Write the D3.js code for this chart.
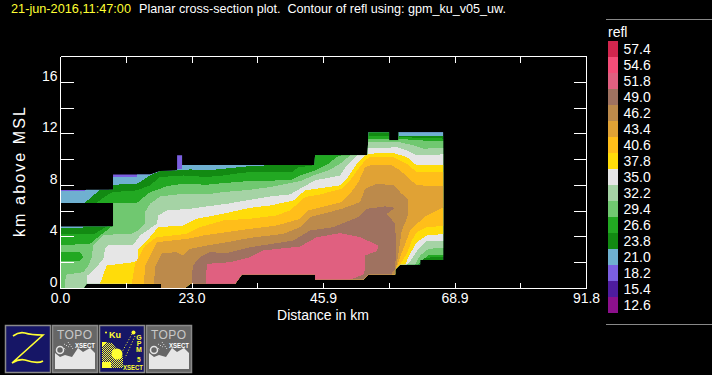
<!DOCTYPE html>
<html>
<head>
<meta charset="utf-8">
<script src="https://cdnjs.cloudflare.com/ajax/libs/d3/7.8.5/d3.min.js"></script>
<style>
  html, body { margin: 0; padding: 0; background: #000; overflow: hidden; }
  text { font-family: "Liberation Sans", sans-serif; fill: #fff; }
  .axis path, .axis line { stroke: #fff; shape-rendering: crispEdges; }
  .axis text { font-size: 14px; }
  .band { shape-rendering: crispEdges; }
</style>
</head>
<body>
<div id="chart"></div>
<script>
// colour bar, top to bottom
var levels = [57.4, 54.6, 51.8, 49.0, 46.2, 43.4, 40.6, 37.8, 35.0, 32.2, 29.4, 26.6, 23.8, 21.0, 18.2, 15.4, 12.6];
var levelColors = ["#d2264e", "#f54d78", "#e06080", "#9f7260", "#bc8a4b", "#e0a235", "#ffbe1a", "#ffdc0a", "#e6e6e6",
  "#a5d3a5", "#70c870", "#22a822", "#128a12", "#6fb0d0", "#7b5fe0", "#4e1c9e", "#8c108c"];

var xTicks = [0, 11.475, 22.95, 34.425, 45.9, 57.375, 68.85, 80.325, 91.8];
var xLabels = ["0.0", "", "23.0", "", "45.9", "", "68.9", "", "91.8"];
var yTicks = [0, 2, 4, 6, 8, 10, 12, 14, 16];
var yLabels = ["0", "", "4", "", "8", "", "12", "", "16"];

// where there is any echo, [km along section, km above MSL]
var echoOutline = [[0,0],[0,4.81],[9.17,4.81],[9.17,6.63],[0,6.63],[0,7.67],[9.17,7.67],[9.17,8.85],[15.63,8.85],[17.37,9.11],[20.35,9.16],
  [20.35,10.33],[21.22,10.33],[21.22,9.58],[44.3,9.58],[44.43,10.33],[53.6,10.33],[53.74,12.12],[57.35,12.12],[57.35,11.5],[58.98,11.5],[58.98,12.12],
  [66.78,12.12],[66.78,2.22],[62.77,2.22],[62.77,1.86],[59.27,1.86],[58.4,1.47],[58.4,1.08],[53.74,1.08],[52.87,0.69],[44.43,0.69],[44.43,1.08],
  [31.64,1.08],[30.47,0.37],[22.62,0.37],[21.63,0],[17.55,0],[17.55,0.37],[4.57,0.37],[3.99,0]];

// one outline per level: the area at or above that level
var area182 = echoOutline;
var area210 = [[-1,7.6],[4.3,7.6],[4.4,7.7],[9.17,7.7],[9.17,8.65],[13.3,8.65],[13.3,9],[20.3,9.3],[21.25,9.3],[21.25,13],[70,13],[70,-1],[-1,-1]];
var area238 = [[-1,4.72],[3.9,4.72],[3.99,6.63],[4.16,6.63],[6.9,7.66],[8.35,7.66],[9.23,8.05],[13.3,8.13],[13.88,8.26],[15.63,8.77],[17.37,9.11],
  [19.7,9.16],[22.62,9.24],[25.52,9.16],[28.43,9.29],[31.35,9.42],[33.09,9.5],[35.99,9.55],[36.1,13],[59,13],[59,11.86],[68,11.86],[68,-1],[-1,-1]];
var area266 = [[-1,4.19],[5.73,4.19],[8.06,4.81],[8,6.63],[6.2,6.63],[8.35,7.3],[9.23,7.48],[13.3,7.61],[15.63,8],[17.37,8.65],[21.45,8.77],[25.52,8.65],
  [28.43,8.77],[31.35,8.96],[33.09,9.03],[40.36,9.03],[41.52,9.42],[43.56,9.5],[44.3,9.6],[44.4,13],[53.6,13],[53.6,11.86],[57.4,11.86],[57.4,11.63],
  [59.27,11.75],[62.18,11.7],[67.13,11.63],[68,11.63],[68,2.48],[63.35,2.38],[62.77,1.86],[62.5,-1],[-1,-1]];
var area294 = [[-1,-1],[-1,2.17],[3.41,2.17],[3.99,2.43],[3.41,2.82],[-1,2.82],[-1,3.41],[2.24,3.41],[5.15,3.46],[6.9,4.11],[8.94,4.81],[9.17,4.9],[9.17,6.63],
  [13.3,6.63],[14.17,6.96],[15.63,7.48],[17.37,7.74],[18.54,7.95],[21.45,8.13],[25.52,8.05],[28.43,8.18],[31.35,8.28],[33.09,8.36],[40.06,8.39],[41.81,8.77],
  [44.14,9.11],[46.76,9.68],[48.2,10.2],[49.67,10.46],[49.8,13],[53.6,13],[53.6,11.63],[58.98,11.63],[62.18,11.5],[67.13,11.42],[68,11.42],[68,2.64],
  [64.22,2.56],[63.06,2.17],[62.47,1.86],[62.2,-1]];
var area322 = [[0.79,-1],[0.79,0.37],[0.96,1.08],[3.98,1.26],[4.86,1.78],[5.44,2.43],[5.73,3.33],[7.47,4.11],[9.17,4.19],[12.14,4.19],[13.59,4.5],[14.76,5.02],
  [14.76,5.93],[15.63,6.57],[17.37,7.14],[21.45,7.35],[25.52,7.3],[28.43,7.48],[33.09,7.66],[36.57,7.87],[38.9,8.08],[41.81,8.33],[44.14,8.77],[46.76,9.16],
  [48.8,9.68],[50.54,10.33],[50.8,13],[53.6,13],[53.6,11.34],[57.35,11.34],[58.98,11.37],[61.6,11.11],[63.35,10.85],[67.13,10.9],[68,10.9],[68,3.2],
  [64.22,3.08],[62.77,2.56],[61.89,1.86],[61.7,-1]];
var area350 = [[4.57,-1],[4.57,0.37],[4.69,1],[6.02,1.52],[7.48,2.3],[7.77,3.08],[8.35,3.41],[12.72,3.41],[13.88,4.11],[16.79,5.02],[17.08,5.67],[18.54,6.06],
  [22.62,6.18],[25.52,6.37],[29.02,6.57],[33.09,6.88],[36.57,7.14],[40.06,7.3],[41.81,7.74],[44.43,8.39],[48.8,8.77],[49.96,9.55],[51.71,10.33],[53.16,10.4],
  [53.45,10.51],[53.6,10.93],[57.35,10.93],[58.11,10.95],[58.69,10.98],[60.44,10.72],[62.18,10.33],[67.13,10.41],[68,10.41],[68,3.72],[63.93,3.72],
  [62.47,3.08],[61.31,2.3],[60.55,1.86],[60.3,-1]];
var area378 = [[6.7,-1],[6.9,0.37],[8.06,1.78],[12.72,2.04],[13.42,2.17],[13.59,3.08],[15.34,3.85],[17.08,4.76],[21.45,4.89],[23.78,5.41],[28.43,5.8],[33.09,6.26],
  [36.57,6.44],[40.65,6.83],[42.68,7.61],[48.8,8],[49.96,8.52],[51.71,9.68],[53.16,10.33],[53.57,10.46],[58.11,10.51],[60.44,10.2],[62.18,9.55],[68,9.55],
  [68,4.27],[63.93,4.11],[62.18,3.59],[61.02,2.69],[60.15,1.86],[59.8,-1]];
var area406 = [[12.3,-1],[12.43,0.37],[13.01,1.91],[14.76,3.33],[16.79,3.98],[22.03,4.24],[24.36,4.76],[28.43,5.28],[33.09,5.41],[37.74,5.67],[40.06,6.06],
  [42.68,7.09],[45.3,7.3],[49.09,7.74],[50.54,8.39],[52,9.29],[53.16,9.94],[54.03,10.2],[58.11,10.2],[60.44,9.68],[62.18,9.03],[68,9.03],[68,4.89],
  [63.93,4.76],[62.18,4.37],[61.31,3.72],[60.44,2.69],[59.27,1.86],[59,-1]];
var area434 = [[14.5,-1],[14.58,0.37],[14.76,1.78],[15.63,2.56],[16.79,3.59],[22.03,3.85],[24.94,4.11],[29.02,4.37],[33.09,4.63],[37.74,4.89],[41.81,5.41],
  [43.27,6.06],[49.09,6.7],[50.54,7.35],[52,8.26],[53.16,9.42],[54.03,9.55],[57.82,9.55],[59.27,9.16],[62.18,8],[68,7.95],[68,6.57],[63.93,5.67],
  [62.18,5.02],[61.02,4.5],[60.15,3.46],[59.27,2.43],[58.52,1.47],[58.4,-1]];
var area462 = [[16.2,-1],[16.33,0.37],[16.5,1.65],[17.67,2.74],[20.29,2.82],[21.45,2.56],[22.62,3.08],[25.52,3.33],[29.02,3.59],[33.09,3.93],[38.9,4.24],
  [41.81,4.76],[43.56,5.54],[49.09,6.18],[52.29,6.7],[53.16,7.74],[55.2,8.13],[58.11,8],[59.56,7.35],[60.73,6.83],[60.55,5.54],[59.56,4.5],[58.98,2.69],
  [58.52,1.52],[58.4,-1]];
var area490 = [[22.8,-1],[22.9,0.37],[23.08,1.78],[24.36,2.43],[26.11,2.82],[29.02,2.74],[30.76,2.95],[33.09,3.2],[40.65,3.72],[43.56,4.5],[47.63,4.76],
  [52,5.54],[53.45,6.18],[56.65,6.37],[58.4,6.26],[56.95,5.8],[58.4,5.02],[58.57,3.2],[58.4,1.47],[57.82,1.2],[57.82,-1]];
var area518 = [[25.3,-1],[25.41,0.37],[25.52,1.91],[29.6,2.04],[33.09,2.43],[35.41,2.95],[41.81,3.26],[44.72,3.98],[48.8,4.29],[52.29,3.98],[55.49,3.33],
  [55.2,2.9],[53.16,2.56],[53.16,1.52],[52.87,1.08],[50.54,0.69],[50.4,-1]];

var bandLevels = [18.2, 21.0, 23.8, 26.6, 29.4, 32.2, 35.0, 37.8, 40.6, 43.4, 46.2, 49.0, 51.8];
var bandAreas = [area182, area210, area238, area266, area294, area322, area350, area378, area406, area434, area462, area490, area518];

var svg = d3.select("#chart").append("svg").attr("width", 712).attr("height", 375);
svg.append("rect").attr("width", 712).attr("height", 375).attr("fill", "#000");

var xScale = d3.scaleLinear().domain([0, 91.8]).range([60.5, 586.5]);
var yScale = d3.scaleLinear().domain([0, 18]).range([288.5, 56.5]);
var color = d3.scaleOrdinal().domain(levels).range(levelColors);
var line = d3.line().x(function(d) { return xScale(d[0]); }).y(function(d) { return yScale(d[1]); });

// title
svg.append("text").attr("x", 11).attr("y", 13).attr("textLength", 120).attr("lengthAdjust", "spacingAndGlyphs")
  .style("font-size", "13px").style("fill", "#ffff33").text("21-jun-2016,11:47:00");
svg.append("text").attr("x", 139).attr("y", 13).attr("textLength", 367).attr("lengthAdjust", "spacingAndGlyphs")
  .style("font-size", "13px").style("white-space", "pre")
  .text("Planar cross-section plot.  Contour of refl using: gpm_ku_v05_uw.");

// contour bands, lowest level first, cut to the echo outline
svg.append("clipPath").attr("id", "echo").append("path").attr("d", line(echoOutline) + "Z").attr("shape-rendering", "crispEdges");
svg.append("g").attr("clip-path", "url(#echo)")
  .selectAll("path")
  .data(bandLevels)
  .enter().append("path")
  .classed("band", true)
  .attr("fill", function(d) { return color(d); })
  .attr("d", function(d, i) { return line(bandAreas[i]) + "Z"; });

// axes, all four sides with inward ticks
function labelFrom(ticks, labels) {
  return function(d) { return labels[ticks.indexOf(d)]; };
}
svg.append("g").classed("axis", true).attr("transform", "translate(0,288.5)")
  .call(d3.axisBottom(xScale).tickValues(xTicks).tickSize(-6).tickSizeOuter(0).offset(0).tickPadding(5).tickFormat(labelFrom(xTicks, xLabels)));
svg.append("g").classed("axis", true).attr("transform", "translate(0,56.5)")
  .call(d3.axisTop(xScale).tickValues(xTicks).tickSize(-6).tickSizeOuter(0).offset(0).tickFormat(""));
var leftAxis = svg.append("g").classed("axis", true).attr("transform", "translate(60.5,0)")
  .call(d3.axisLeft(yScale).tickValues(yTicks).tickSize(-13).tickSizeOuter(0).offset(0).tickPadding(3).tickFormat(labelFrom(yTicks, yLabels)));
leftAxis.selectAll("text").attr("y", -6);
svg.append("g").classed("axis", true).attr("transform", "translate(586.5,0)")
  .call(d3.axisRight(yScale).tickValues(yTicks).tickSize(-13).tickSizeOuter(0).offset(0).tickFormat(""));
svg.selectAll(".axis text").attr("fill", "#fff");

svg.append("text").attr("x", 323).attr("y", 320).attr("text-anchor", "middle").style("font-size", "14px").text("Distance in km");
svg.append("text").attr("transform", "translate(25,172) rotate(-90)").attr("text-anchor", "middle")
  .attr("textLength", 130).style("font-size", "16px").text("km above MSL");

// colour bar
var barScale = d3.scaleBand().domain(levels).range([41, 313]);
svg.append("line").attr("x1", 606).attr("x2", 712).attr("y1", 19.5).attr("y2", 19.5).attr("stroke", "#888");
svg.append("line").attr("x1", 606).attr("x2", 712).attr("y1", 324.5).attr("y2", 324.5).attr("stroke", "#888");
svg.append("text").attr("x", 608).attr("y", 37).style("font-size", "14px").text("refl");
var bar = svg.append("g").selectAll("g").data(levels).enter().append("g");
bar.append("rect").attr("x", 608).attr("width", 10)
  .attr("y", function(d) { return barScale(d); })
  .attr("height", barScale.bandwidth())
  .attr("fill", function(d) { return color(d); });
bar.append("text").attr("x", 623.5)
  .attr("y", function(d) { return barScale(d) + 13; })
  .style("font-size", "14px")
  .text(function(d) { return d.toFixed(1); });

// the four buttons along the bottom
var defs = svg.append("defs");
var dither = defs.append("pattern").attr("id", "dither").attr("width", 2).attr("height", 2).attr("patternUnits", "userSpaceOnUse");
dither.append("rect").attr("width", 1).attr("height", 1).attr("fill", "#ffff33");
dither.append("rect").attr("x", 1).attr("y", 1).attr("width", 1).attr("height", 1).attr("fill", "#ffff33");

function button(x, fill) {
  var g = svg.append("g").attr("transform", "translate(" + x + ",325)");
  g.append("rect").attr("x", 0.5).attr("y", 0.5).attr("width", 45).attr("height", 47)
    .attr("fill", fill).attr("stroke", "#8a8a8a").attr("stroke-width", 1.5);
  return g;
}
function topoButton(x) {
  var g = button(x, "#666");
  g.append("text").attr("x", 5).attr("y", 13.5).attr("textLength", 35).style("font-size", "12px").style("fill", "#c8c8c8").text("TOPO");
  g.append("path").attr("d", "M3,44V28L8,32L13,30L20,32L26,23L31,27L38,23L43,28V44Z").attr("fill", "#e6e6e6");
  g.append("circle").attr("cx", 8).attr("cy", 25).attr("r", 3.5).attr("fill", "none").attr("stroke", "#e6e6e6").attr("stroke-width", 1.5);
  g.append("path").attr("d", "M12,19L17,22M16,17L21,24M12,23L14,25").attr("stroke", "#e6e6e6").attr("stroke-dasharray", "1,1.5");
  g.append("text").attr("x", 23).attr("y", 22.5).attr("textLength", 20).attr("lengthAdjust", "spacingAndGlyphs")
    .style("font-size", "7px").style("font-weight", "bold").text("XSECT");
}

var zButton = button(5, "#161666");
zButton.append("path").attr("d", "M8,11C12,8 16,7 20,8C26,10 31,10 38,10L7,38C12,35 16,34 20,35C26,37 33,39 38,36")
  .attr("fill", "none").attr("stroke", "#ffff33").attr("stroke-width", 1.6);

topoButton(52);

var kuButton = button(99, "#161666");
kuButton.append("path").attr("d", "M3,17L13,18L24,32V43H3Z").attr("fill", "url(#dither)");
kuButton.append("rect").attr("x", 3).attr("y", 37).attr("width", 9).attr("height", 6).attr("fill", "#ffff33");
kuButton.append("path").attr("d", "M3,17H8L3,22Z").attr("fill", "#ffff33");
kuButton.append("circle").attr("cx", 18).attr("cy", 29).attr("r", 5.5).attr("fill", "#ffff33");
kuButton.append("circle").attr("cx", 34.5).attr("cy", 7.5).attr("r", 2).attr("fill", "#ffff33");
kuButton.append("circle").attr("cx", 7).attr("cy", 7.5).attr("r", 1).attr("fill", "#ffff33");
kuButton.append("path").attr("d", "M33,9L23,27M36,11L26,33").attr("stroke", "#ffff33").attr("stroke-dasharray", "1,2");
kuButton.append("text").attr("x", 10).attr("y", 13).style("font-size", "9px").style("font-weight", "bold").style("fill", "#ffff33").text("Ku");
kuButton.append("text").attr("x", 40).attr("y", 9)
  .style("writing-mode", "vertical-rl").style("text-orientation", "upright").style("letter-spacing", "-1px")
  .style("font-size", "7px").style("font-weight", "bold").style("fill", "#ffff33").text("GPM");
kuButton.append("text").attr("x", 38).attr("y", 36.5).style("font-size", "6.5px").style("font-weight", "bold").style("fill", "#ffff33").text("5");
kuButton.append("text").attr("x", 24).attr("y", 44.5).attr("textLength", 20).attr("lengthAdjust", "spacingAndGlyphs")
  .style("font-size", "7px").style("font-weight", "bold").style("fill", "#ffff33").text("XSECT");

topoButton(146);
</script>
</body>
</html>
